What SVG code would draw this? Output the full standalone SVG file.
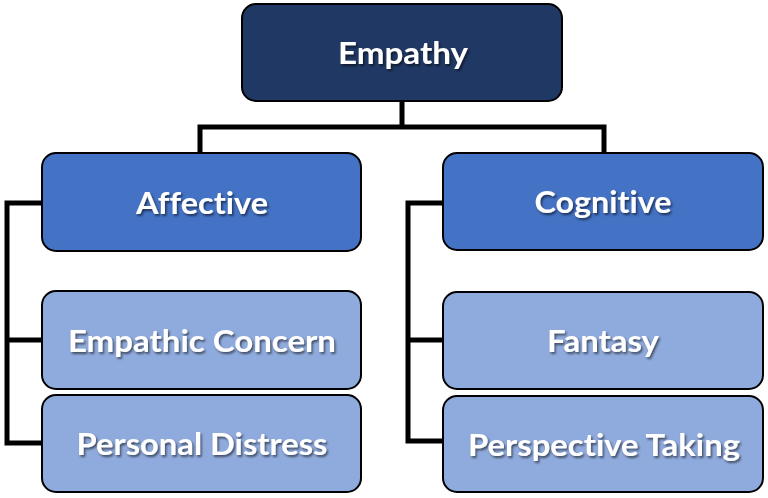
<svg xmlns="http://www.w3.org/2000/svg" width="768" height="498" viewBox="0 0 768 498">
<defs>
<filter id="ts" x="-10%" y="-30%" width="120%" height="160%">
<feDropShadow dx="1.5" dy="2" stdDeviation="1.2" flood-color="#000" flood-opacity="0.55"/>
</filter>
<style>
.box{stroke:#000;stroke-width:2}
.top{fill:#203864}
.mid{fill:#4472C4}
.low{fill:#8FAADC}
.t{font-family:Lato,"Open Sans","Liberation Sans",sans-serif;font-weight:bold;font-size:31px;fill:#fff;text-anchor:middle;filter:url(#ts);font-variant-ligatures:none;font-feature-settings:"liga" 0,"dlig" 0}
.c{fill:none;stroke:#000;stroke-width:5}
</style>
</defs>
<rect width="768" height="498" fill="#fff"/>
<g id="connectors">
<polyline class="c" points="402,101 402,127"/>
<polyline class="c" points="200,153 200,127 604,127 604,153"/>
<polyline class="c" points="42,203 7,203 7,443 42,443"/>
<polyline class="c" points="7,340 42,340"/>
<polyline class="c" points="443,203 408,203 408,441 443,441"/>
<polyline class="c" points="408,340 443,340"/>
</g>
<g id="empathy"><rect class="box top" x="242" y="4" width="320" height="97" rx="14"/><text class="t" x="403" y="64" textLength="130" lengthAdjust="spacingAndGlyphs">Empathy</text></g>
<g id="affective"><rect class="box mid" x="42" y="153" width="319" height="98" rx="14"/><text class="t" x="202" y="214" textLength="132" lengthAdjust="spacingAndGlyphs">Affective</text></g>
<g id="cognitive"><rect class="box mid" x="443" y="153" width="320" height="97" rx="14"/><text class="t" x="603" y="213" textLength="137" lengthAdjust="spacingAndGlyphs">Cognitive</text></g>
<g id="empathic-concern"><rect class="box low" x="42" y="291" width="319" height="98" rx="14"/><text class="t" x="202" y="352" textLength="268" lengthAdjust="spacingAndGlyphs">Empathic Concern</text></g>
<g id="personal-distress"><rect class="box low" x="42" y="395" width="319" height="97" rx="14"/><text class="t" x="202" y="455" textLength="251" lengthAdjust="spacingAndGlyphs">Personal Distress</text></g>
<g id="fantasy"><rect class="box low" x="443" y="292" width="320" height="97" rx="14"/><text class="t" x="603" y="352" textLength="112" lengthAdjust="spacingAndGlyphs">Fantasy</text></g>
<g id="perspective-taking"><rect class="box low" x="443" y="396" width="320" height="96" rx="14"/><text class="t" x="604" y="456" textLength="272" lengthAdjust="spacingAndGlyphs">Perspective Taking</text></g>
</svg>
